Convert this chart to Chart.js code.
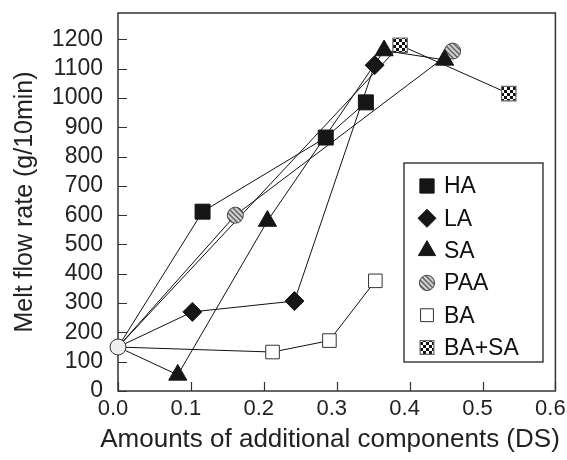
<!DOCTYPE html>
<html>
<head>
<meta charset="utf-8">
<script src="https://cdn.jsdelivr.net/npm/chart.js@4.4.0/dist/chart.umd.min.js"></script>
<style>
  html, body { margin: 0; padding: 0; background: #fff; }
  #wrap { width: 567px; height: 460px; }
</style>
</head>
<body>
<div id="wrap"><canvas id="mfr"></canvas></div>
<script>
"use strict";

// values
const originX = [0];
const originY = [150];

const haX = [0, 0.116, 0.285, 0.34];
const haY = [150, 612, 865, 985];

const laX = [0, 0.102, 0.242, 0.352];
const laY = [150, 270, 307, 1112];

const saX = [0, 0.082, 0.205, 0.365, 0.448];
const saY = [150, 55, 580, 1162, 1130];

const paaX = [0, 0.161, 0.459];
const paaY = [150, 600, 1160];

const baX = [0, 0.212, 0.29, 0.353];
const baY = [150, 133, 172, 376];

const basaX = [0, 0.387, 0.536];
const basaY = [150, 1180, 1015];

const yTicks = [0, 100, 200, 300, 400, 500, 600, 700, 800, 900, 1000, 1100, 1200];
const xTicks = [0, 0.1, 0.2, 0.3, 0.4, 0.5, 0.6];

const xTitle = "Amounts of additional components (DS)";
const yTitle = "Melt flow rate (g/10min)";

const FONT = "'Liberation Sans', Arial, sans-serif";

function pts(xs, ys) {
  let out = [];
  for (let i = 0; i < xs.length; i++) out.push({ x: xs[i], y: ys[i] });
  return out;
}

// hatched fill for PAA
function stripes() {
  let c = document.createElement("canvas");
  c.width = 5; c.height = 5;
  let g = c.getContext("2d");
  g.fillStyle = "#d0d0d0";
  g.fillRect(0, 0, 5, 5);
  g.strokeStyle = "#5a5a5a";
  g.lineWidth = 1.3;
  g.beginPath();
  g.moveTo(-1, -1); g.lineTo(6, 6);
  g.moveTo(-1, 4); g.lineTo(1, 6);
  g.moveTo(4, -1); g.lineTo(6, 1);
  g.stroke();
  return g.createPattern(c, "repeat");
}

// checker fill for BA+SA
function checker() {
  let c = document.createElement("canvas");
  c.width = 6; c.height = 6;
  let g = c.getContext("2d");
  g.fillStyle = "#fff";
  g.fillRect(0, 0, 6, 6);
  g.fillStyle = "#111";
  g.fillRect(0, 0, 3, 3);
  g.fillRect(3, 3, 3, 3);
  return g.createPattern(c, "repeat");
}

const paaFill = stripes();
const checkFill = checker();

function series(label, xs, ys, style, r, fill, border, bw) {
  return {
    label: label,
    data: pts(xs, ys),
    showLine: true,
    borderColor: "#111",
    borderWidth: 1,
    pointStyle: style,
    pointRadius: (c) => (c.dataIndex === 0 ? 0 : r),
    pointHoverRadius: (c) => (c.dataIndex === 0 ? 0 : r),
    pointBackgroundColor: fill,
    pointBorderColor: border,
    pointBorderWidth: bw,
    clip: false,
    legendR: r
  };
}

const datasets = [
  {
    label: "origin",
    data: pts(originX, originY),
    showLine: false,
    pointStyle: "circle",
    pointRadius: 8,
    pointBackgroundColor: "#efefef",
    pointBorderColor: "#333",
    pointBorderWidth: 1,
    clip: false,
    noLegend: true
  },
  series("HA", haX, haY, "rect", 10.6, "#161616", "#161616", 1),
  series("LA", laX, laY, "rectRot", 9.5, "#161616", "#161616", 1),
  series("SA", saX, saY, "triangle", 10.5, "#161616", "#161616", 1),
  series("PAA", paaX, paaY, "circle", 8, paaFill, "#444", 1),
  series("BA", baX, baY, "rect", 9.6, "#fff", "#333", 1),
  series("BA+SA", basaX, basaY, "rect", 10.2, checkFill, "#666", 1.2)
];

const frame = {
  id: "frame",
  beforeDatasetsDraw(chart) {
    const a = chart.chartArea;
    const g = chart.ctx;
    const xs = chart.scales.x, ys = chart.scales.y;
    g.save();
    g.strokeStyle = "#333";
    g.lineWidth = 1.5;
    g.strokeRect(a.left, a.top, a.right - a.left, a.bottom - a.top);
    g.lineWidth = 1.2;
    g.beginPath();
    for (let v of yTicks) {
      let p = Math.round(ys.getPixelForValue(v)) + 0.5;
      g.moveTo(a.left, p); g.lineTo(a.left + 9, p);
    }
    for (let v of xTicks) {
      let p = Math.round(xs.getPixelForValue(v)) + 0.5;
      g.moveTo(p, a.bottom); g.lineTo(p, a.bottom - 9);
    }
    g.stroke();

    // x title drawn here: the scale title would be squeezed to the plot width
    g.fillStyle = "#222";
    g.font = "26px " + FONT;
    g.textAlign = "center";
    g.textBaseline = "middle";
    g.fillText(xTitle, 330, 440);
    g.restore();
  },
  afterDraw(chart) {
    const g = chart.ctx;
    const box = { left: 404, top: 163, right: 543, bottom: 362 };
    g.save();
    g.strokeStyle = "#222";
    g.lineWidth = 1.3;
    g.strokeRect(box.left, box.top, box.right - box.left, box.bottom - box.top);
    g.font = "23px " + FONT;
    g.textBaseline = "middle";
    let row = 0;
    chart.data.datasets.forEach((d) => {
      if (d.noLegend) return;
      let y = 186 + row * 32.3;
      g.fillStyle = d.pointBackgroundColor;
      g.strokeStyle = d.pointBorderColor;
      g.lineWidth = d.pointBorderWidth;
      Chart.helpers.drawPoint(g, {
        pointStyle: d.pointStyle, radius: d.legendR * 0.95, rotation: 0, borderWidth: d.pointBorderWidth
      }, 427, y);
      g.fillStyle = "#111";
      g.fillText(d.label, 444, y + 1);
      row++;
    });
    g.restore();
  }
};

new Chart(document.getElementById("mfr"), {
  type: "scatter",
  data: { datasets: datasets },
  options: {
    responsive: true,
    maintainAspectRatio: false,
    animation: false,
    layout: { padding: { top: 13, right: 10, left: 0, bottom: 0 } },
    plugins: { legend: { display: false }, tooltip: { enabled: false } },
    scales: {
      x: {
        type: "linear",
        min: 0,
        max: 0.6,
        afterBuildTicks: (s) => { s.ticks = xTicks.map((v) => ({ value: v })); },
        afterFit: (s) => { s.height = 69; s.paddingLeft = 0; s.paddingRight = 0; },
        grid: { display: false, drawTicks: false },
        border: { display: false },
        ticks: {
          color: "#222",
          padding: 5,
          labelOffset: -5,
          font: { family: FONT, size: 22 },
          callback: (v) => v.toFixed(1)
        },
        title: { display: false }
      },
      y: {
        type: "linear",
        min: 0,
        max: 1290,
        afterBuildTicks: (s) => { s.ticks = yTicks.map((v) => ({ value: v })); },
        afterFit: (s) => { s.width = 118; s.paddingTop = 0; s.paddingBottom = 0; },
        grid: { display: false, drawTicks: false },
        border: { display: false },
        ticks: {
          color: "#222",
          padding: 15,
          font: { family: FONT, size: 23 },
          callback: (v) => String(v)
        },
        title: {
          display: true,
          text: yTitle,
          color: "#222",
          font: { family: FONT, size: 25 },
          padding: { top: 10, bottom: 0 }
        }
      }
    }
  },
  plugins: [frame]
});
</script>
</body>
</html>
